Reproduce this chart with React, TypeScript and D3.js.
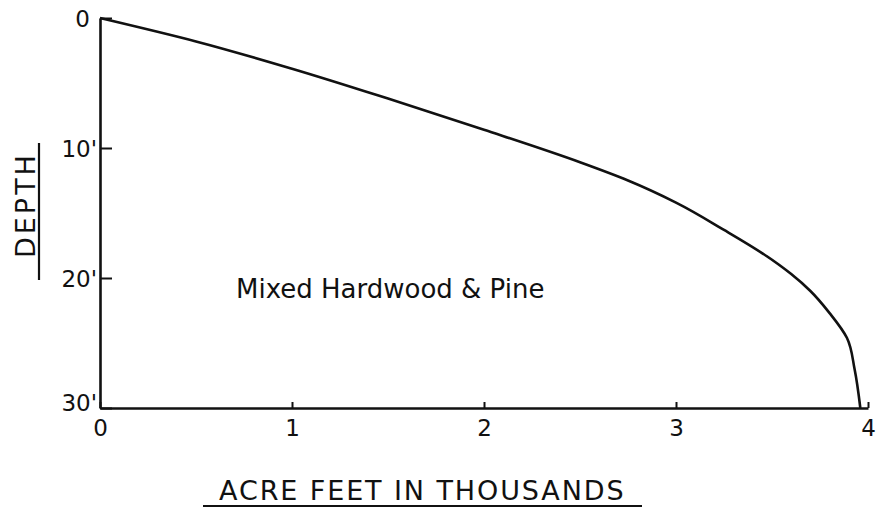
import { useRef, useEffect } from 'react';
import * as d3 from 'd3';

// acre feet (thousands) vs depth (ft)
const acreFeet = [0, 0.5, 1.0, 1.5, 2.0, 2.5, 2.75, 3.0, 3.25, 3.45, 3.6, 3.7, 3.8, 3.89, 3.93, 3.96];
const depthFt = [0, 1.8, 3.9, 6.2, 8.6, 11.1, 12.5, 14.2, 16.3, 18.1, 19.7, 21.0, 22.7, 24.6, 27.0, 30];
const xTicks = [0, 1, 2, 3, 4];
const yTicks = [0, 10, 20, 30];
const curveLabel = 'Mixed Hardwood & Pine';
const xTitle = 'ACRE FEET IN THOUSANDS';
const yTitle = 'DEPTH';

const INK = '#111';
const FONT = '"DejaVu Sans", sans-serif';

export default function App() {
  const svgRef = useRef<SVGSVGElement>(null);

  useEffect(() => {
    const svg = d3.select(svgRef.current);
    svg.selectAll('*').remove();

    const W = 880, H = 516;
    const x = d3.scaleLinear().domain([0, 4]).range([100, 868]);
    const y = d3.scaleLinear().domain([0, 30]).range([18, 408]);

    svg.append('rect').attr('width', W).attr('height', H).attr('fill', '#fff');

    // curve (depth is monotone, so interpolate along y)
    const pts = acreFeet.map((a, i) => [a, depthFt[i]] as [number, number]);
    const line = d3.line<[number, number]>()
      .x(d => x(d[0]))
      .y(d => y(d[1]))
      .curve(d3.curveMonotoneY);
    svg.append('path')
      .datum(pts)
      .attr('d', line)
      .attr('fill', 'none')
      .attr('stroke', INK)
      .attr('stroke-width', 2.6)
      .attr('stroke-linejoin', 'round');

    // x axis, ticks pointing up
    const xAxis = svg.append('g')
      .attr('transform', `translate(0,${y(30)})`)
      .call(d3.axisBottom(x).tickValues(xTicks).tickSizeInner(-6).tickSizeOuter(0).tickFormat(d => `${d}`));
    xAxis.select('.domain').attr('stroke', INK).attr('stroke-width', 2.6);
    xAxis.selectAll('.tick line').attr('stroke', INK).attr('stroke-width', 2);
    xAxis.selectAll('.tick text')
      .attr('y', 28).attr('dy', 0)
      .attr('fill', INK)
      .style('font-family', FONT).style('font-size', '23px');

    // y axis, ticks pointing right
    const yAxis = svg.append('g')
      .attr('transform', `translate(${x(0)},0)`)
      .call(d3.axisRight(y).tickValues(yTicks).tickSizeInner(12).tickSizeOuter(0)
        .tickFormat(d => (+d === 0 ? '0' : `${d}'`)));
    yAxis.select('.domain').attr('stroke', INK).attr('stroke-width', 2.6);
    yAxis.selectAll('.tick line').attr('stroke', INK).attr('stroke-width', 2);
    yAxis.selectAll<SVGTextElement, number>('.tick text')
      .attr('x', d => (d === 0 ? -10 : -3))
      .attr('dy', d => (d === 30 ? '0.1em' : '0.36em'))
      .attr('text-anchor', 'end')
      .attr('fill', INK)
      .style('font-family', FONT).style('font-size', '23px');

    // curve label
    svg.append('text')
      .attr('x', 236).attr('y', 298)
      .attr('fill', INK)
      .style('font-family', FONT).style('font-size', '26px')
      .text(curveLabel);

    // x title + underline
    svg.append('text')
      .attr('x', 219).attr('y', 500)
      .attr('fill', INK)
      .style('font-family', FONT).style('font-size', '27px').style('letter-spacing', '1.9px')
      .text(xTitle);
    svg.append('line')
      .attr('x1', 203).attr('x2', 642).attr('y1', 506).attr('y2', 506)
      .attr('stroke', INK).attr('stroke-width', 2.2);

    // y title + underline
    svg.append('text')
      .attr('transform', 'translate(35,258) rotate(-90)')
      .attr('fill', INK)
      .style('font-family', FONT).style('font-size', '27px').style('letter-spacing', '3px')
      .text(yTitle);
    svg.append('line')
      .attr('x1', 39).attr('x2', 39).attr('y1', 143).attr('y2', 280)
      .attr('stroke', INK).attr('stroke-width', 2.2);
  }, []);

  return (
    <svg ref={svgRef} width={880} height={516}
      style={{ position: 'absolute', left: 0, top: 0, display: 'block' }} />
  );
}
